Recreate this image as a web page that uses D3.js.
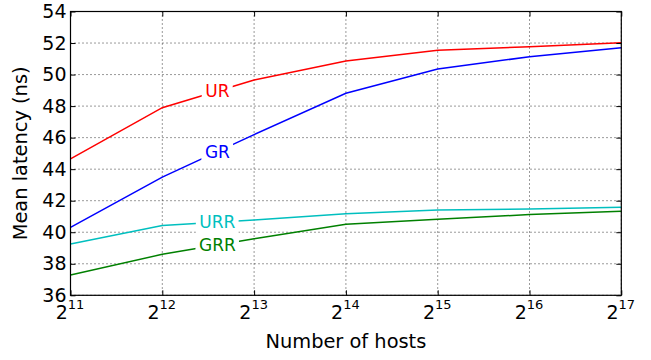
<!DOCTYPE html>
<html>
<head>
<meta charset="utf-8">
<script src="https://cdn.jsdelivr.net/npm/d3@7"></script>
<style>
  body { margin: 0; background: #fff; }
  svg { font-family: "DejaVu Sans", sans-serif; }
</style>
</head>
<body>
<div id="chart"></div>
<script>
// Number of hosts (powers of two) and mean latency per routing scheme
const hosts_exp = [11, 12, 13, 14, 15, 16, 17];
const ur_values = [44.65, 47.9, 49.66, 50.86, 51.54, 51.77, 52.02];
const gr_values = [40.31, 43.5, 46.19, 48.81, 50.35, 51.13, 51.7];
const urr_values = [39.26, 40.42, 40.78, 41.18, 41.41, 41.48, 41.58];
const grr_values = [37.29, 38.6, 39.59, 40.5, 40.82, 41.12, 41.33];
const series_names = ['UR', 'GR', 'URR', 'GRR'];
const series_colors = ['#ff0000', '#0000ff', '#00bfbf', '#008000'];
const y_ticks = [36, 38, 40, 42, 44, 46, 48, 50, 52, 54];
const label_exp = 12.6;

const attributes = {
    width: 651,
    height: 360,
    margin: {top: 11.5, right: 29.7, bottom: 64.7, left: 70.5}
};

const series = [ur_values, gr_values, urr_values, grr_values].map((vals, i) => ({
    name: series_names[i],
    color: series_colors[i],
    points: vals.map((v, j) => ({x: Math.pow(2, hosts_exp[j]), y: v}))
}));

const inner_w = attributes.width - attributes.margin.left - attributes.margin.right;
const inner_h = attributes.height - attributes.margin.top - attributes.margin.bottom;

const svg = d3.select('#chart').append('svg')
    .attr('width', attributes.width)
    .attr('height', attributes.height);

const g = svg.append('g')
    .attr('transform', `translate(${attributes.margin.left},${attributes.margin.top})`);

const x = d3.scaleLog().base(2)
    .domain([Math.pow(2, 11), Math.pow(2, 17)])
    .range([0, inner_w]);
const y = d3.scaleLinear().domain([36, 54]).range([inner_h, 0]);
const x_ticks = hosts_exp.map(e => Math.pow(2, e));

// dotted grid
g.append('g').attr('class', 'grid')
    .selectAll('line.gx').data(x_ticks).join('line')
    .attr('x1', d => x(d)).attr('x2', d => x(d))
    .attr('y1', 0).attr('y2', inner_h);
g.select('.grid')
    .selectAll('line.gy').data(y_ticks).join('line')
    .attr('x1', 0).attr('x2', inner_w)
    .attr('y1', d => y(d)).attr('y2', d => y(d));
g.selectAll('.grid line')
    .attr('stroke', '#000')
    .attr('stroke-width', 0.8)
    .attr('stroke-dasharray', '1,3');

// lines
const line = d3.line().x(d => x(d.x)).y(d => y(d.y));
g.selectAll('.series').data(series).join('path')
    .attr('class', 'series')
    .attr('fill', 'none')
    .attr('stroke', d => d.color)
    .attr('stroke-width', 1.5)
    .attr('d', d => line(d.points));

// inline labels with white boxes
const label_x = Math.pow(2, label_exp);
series.forEach(s => {
    const interp = d3.scaleLog().base(2)
        .domain(s.points.map(p => p.x))
        .range(s.points.map(p => p.y));
    const lx = x(label_x), ly = y(interp(label_x));
    const lg = g.append('g');
    const rect = lg.append('rect').attr('fill', '#fff');
    const t = lg.append('text')
        .attr('x', lx).attr('y', ly)
        .attr('dy', '0.36em')
        .attr('text-anchor', 'middle')
        .attr('font-size', 17)
        .attr('fill', s.color)
        .text(s.name);
    const bb = t.node().getBBox();
    rect.attr('x', bb.x - 3.5).attr('y', bb.y - 1)
        .attr('width', bb.width + 6.5).attr('height', bb.height + 2);
});

// axes (inward ticks on all sides)
const gx = g.append('g')
    .attr('transform', `translate(0,${inner_h})`)
    .call(d3.axisBottom(x).tickValues(x_ticks).tickSize(-5).tickSizeOuter(0).tickFormat(''));
g.append('g')
    .call(d3.axisTop(x).tickValues(x_ticks).tickSize(-5).tickSizeOuter(0).tickFormat(''));
const gy = g.append('g')
    .call(d3.axisLeft(y).tickValues(y_ticks).tickSize(-5).tickSizeOuter(0).tickPadding(4));
g.append('g')
    .attr('transform', `translate(${inner_w},0)`)
    .call(d3.axisRight(y).tickValues(y_ticks).tickSize(-5).tickSizeOuter(0).tickFormat(''));

g.selectAll('.domain').remove();
g.selectAll('.tick line').attr('stroke', '#000').attr('stroke-width', 1);

gy.selectAll('text')
    .attr('font-size', 19)
    .attr('font-family', '"DejaVu Sans", sans-serif')
    .attr('fill', '#000');

gx.selectAll('.tick').each(function (d) {
    const txt = d3.select(this).select('text')
        .attr('y', 24).attr('dy', null).attr('x', -1)
        .attr('font-family', '"DejaVu Sans", sans-serif')
        .attr('fill', '#000')
        .attr('font-size', 19);
    txt.text('');
    txt.append('tspan').text('2');
    txt.append('tspan').attr('dy', -10).attr('font-size', 13).text(Math.round(Math.log2(d)));
});

// frame
g.append('rect')
    .attr('width', inner_w).attr('height', inner_h)
    .attr('fill', 'none').attr('stroke', '#000').attr('stroke-width', 1.2);

// axis titles
svg.append('text')
    .attr('x', attributes.margin.left + inner_w / 2)
    .attr('y', 347.7)
    .attr('text-anchor', 'middle')
    .attr('font-size', 19.4)
    .text('Number of hosts');

svg.append('text')
    .attr('transform', `translate(27,${attributes.margin.top + inner_h / 2}) rotate(-90)`)
    .attr('text-anchor', 'middle')
    .attr('font-size', 19.4)
    .text('Mean latency (ns)');
</script>
</body>
</html>
